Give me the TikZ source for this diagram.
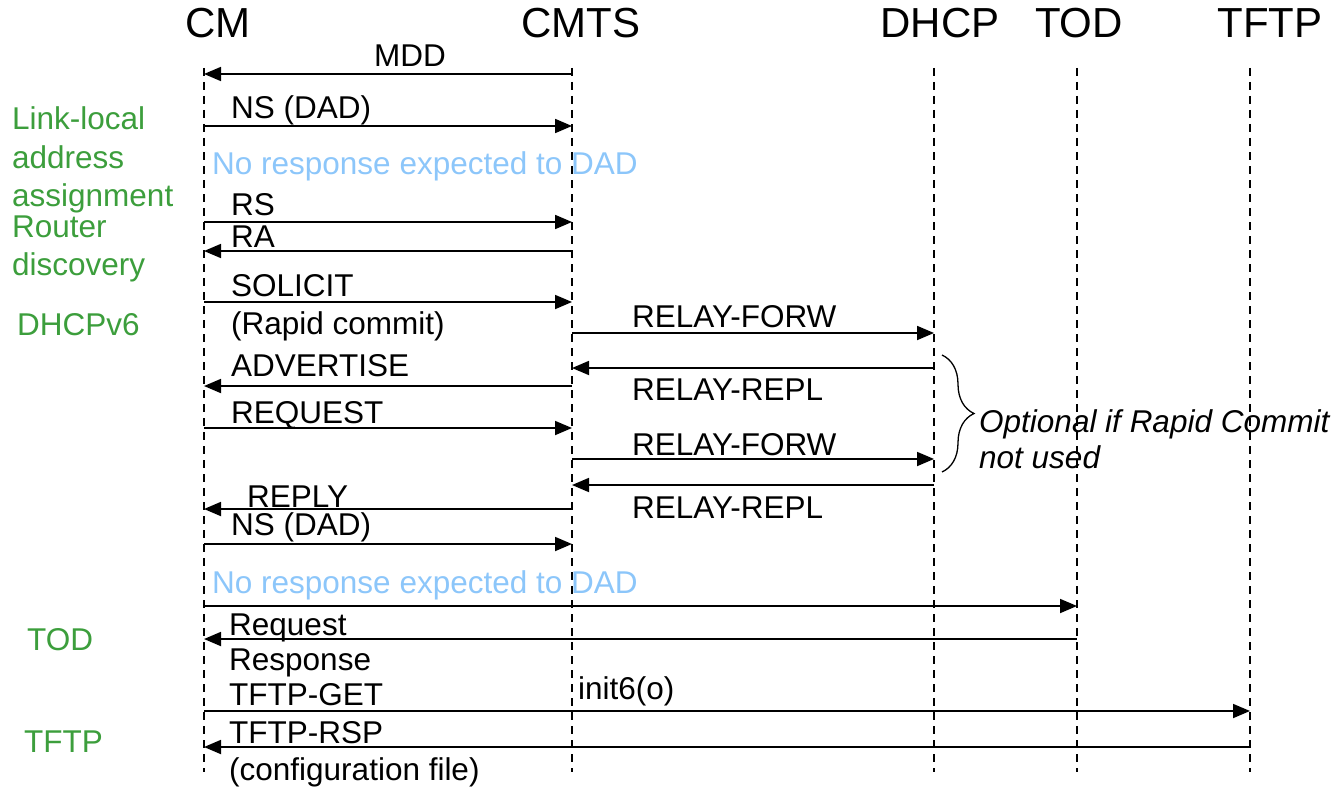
\documentclass[tikz,border=0pt]{standalone}
\usepackage{fontspec}
\setmainfont{Liberation Sans}
\usetikzlibrary{arrows.meta,decorations.pathreplacing}
\definecolor{grn}{RGB}{60,158,60}
\definecolor{lblue}{RGB}{140,198,250}
\begin{document}
\begin{tikzpicture}[x=1pt,y=-1pt,
  hdr/.style={inner sep=0pt,anchor=base,font=\fontsize{42}{46}\selectfont},
  lbl/.style={inner sep=0pt,anchor=base west,font=\fontsize{31.5}{36}\selectfont},
  grp/.style={lbl,text=grn},
  note/.style={lbl,text=lblue},
  life/.style={line width=1.2pt,dash pattern=on 8pt off 6pt},
  msg/.style={line width=1.8pt,-{Triangle[length=17pt,width=14pt]}}]
\useasboundingbox (0,0) rectangle (1338,789);
% lifelines
\coordinate (cm) at (204,68);
\coordinate (cmts) at (572,68);
\coordinate (dhcp) at (934,68);
\coordinate (tod) at (1077,68);
\coordinate (tftp) at (1250,68);
\foreach \n in {cm,cmts,dhcp,tod,tftp}{\draw[life] (\n) -- (\n |- 0,772);}
% headers
\node[hdr] (hcm) at (218,38) {CM};
\node[hdr] (hcmts) at (581,38) {CMTS};
\node[hdr] (hdhcp) at (940,38) {DHCP};
\node[hdr] (htod) at (1079,38) {TOD};
\node[hdr] (htftp) at (1270,38) {TFTP};
% group labels
\node[grp] (g1) at (12,129) {Link-local};
\node[grp] (g2) at (12,168) {address};
\node[grp] (g3) at (12,206) {assignment};
\node[grp] (g4) at (12,237) {Router};
\node[grp] (g5) at (12,275) {discovery};
\node[grp] (g6) at (17,335) {DHCPv6};
\node[grp] (g7) at (27,650) {TOD};
\node[grp] (g8) at (24,752) {TFTP};
% message labels
\node[lbl,anchor=base] (lmdd) at (410,67) {MDD};
\node[lbl] (lns1) at (231,119) {NS (DAD)};
\node[note] (n1) at (212,174) {No response expected to DAD};
\node[lbl] (lrs) at (231,215) {RS};
\node[lbl] (lra) at (231,247) {RA};
\node[lbl] (lsol) at (231,296) {SOLICIT};
\node[lbl] (lrap) at (231,334) {(Rapid commit)};
\node[lbl] (lrf1) at (632,327) {RELAY-FORW};
\node[lbl] (ladv) at (231,376) {ADVERTISE};
\node[lbl] (lrr1) at (632,400) {RELAY-REPL};
\node[lbl] (lreq) at (231,423) {REQUEST};
\node[lbl] (lrf2) at (632,455) {RELAY-FORW};
\node[lbl] (lrep) at (247,507) {REPLY};
\node[lbl] (lrr2) at (632,518) {RELAY-REPL};
\node[lbl] (lns2) at (231,535) {NS (DAD)};
\node[note] (n2) at (212,593) {No response expected to DAD};
\node[lbl] (lreq2) at (229,635) {Request};
\node[lbl] (lresp) at (229,670) {Response};
\node[lbl] (lget) at (229,705) {TFTP-GET};
\node[lbl] (linit) at (578,699) {init6(o)};
\node[lbl] (lrsp) at (229,743) {TFTP-RSP};
\node[lbl] (lcfg) at (229,780) {(configuration file)};
% messages
\draw[msg] (cmts |- 0,74) -- (cm |- 0,74);
\draw[msg] (cm |- 0,126) -- (cmts |- 0,126);
\draw[msg] (cm |- 0,222) -- (cmts |- 0,222);
\draw[msg] (cmts |- 0,251) -- (cm |- 0,251);
\draw[msg] (cm |- 0,302) -- (cmts |- 0,302);
\draw[msg] (cmts |- 0,333) -- (dhcp |- 0,333);
\draw[msg] (dhcp |- 0,368) -- (cmts |- 0,368);
\draw[msg] (cmts |- 0,386) -- (cm |- 0,386);
\draw[msg] (cm |- 0,428) -- (cmts |- 0,428);
\draw[msg] (cmts |- 0,459) -- (dhcp |- 0,459);
\draw[msg] (dhcp |- 0,485) -- (cmts |- 0,485);
\draw[msg] (cmts |- 0,509) -- (cm |- 0,509);
\draw[msg] (cm |- 0,544) -- (cmts |- 0,544);
\draw[msg] (cm |- 0,606) -- (tod |- 0,606);
\draw[msg] (tod |- 0,639) -- (cm |- 0,639);
\draw[msg] (cm |- 0,711) -- (tftp |- 0,711);
\draw[msg] (tftp |- 0,747) -- (cm |- 0,747);
% brace
\coordinate (bt) at (942,355);
\coordinate (bb) at (942,472);
\draw[line width=1.3pt,decorate,decoration={brace,amplitude=32pt,aspect=0.5}] (bt) -- (bb);
\node[lbl,font=\fontsize{31.5}{36}\selectfont\itshape] (opt1) at (979,432) {Optional if Rapid Commit};
\node[lbl,font=\fontsize{31.5}{36}\selectfont\itshape] (opt2) at (979,468) {not used};
\end{tikzpicture}
\end{document}
